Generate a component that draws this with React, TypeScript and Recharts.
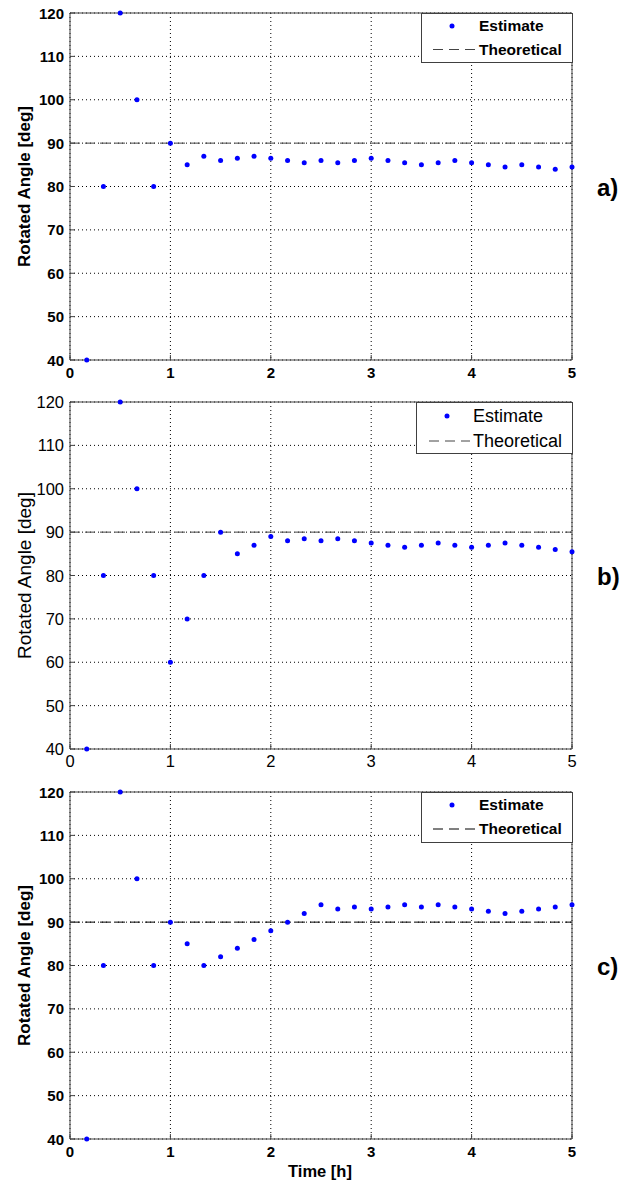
import React from 'react';
import { ComposedChart, Scatter, Line, XAxis, YAxis, CartesianGrid, Legend, Label } from 'recharts';

const timeHours = [0.167, 0.333, 0.5, 0.667, 0.833, 1.0, 1.167, 1.333, 1.5, 1.667, 1.833, 2.0, 2.167, 2.333, 2.5, 2.667, 2.833, 3.0, 3.167, 3.333, 3.5, 3.667, 3.833, 4.0, 4.167, 4.333, 4.5, 4.667, 4.833, 5.0];
const estimateA = [40, 80, 120, 100, 80, 90, 85, 87, 86, 86.5, 87, 86.5, 86, 85.5, 86, 85.5, 86, 86.5, 86, 85.5, 85, 85.5, 86, 85.5, 85, 84.5, 85, 84.5, 84, 84.5];
const estimateB = [40, 80, 120, 100, 80, 60, 70, 80, 90, 85, 87, 89, 88, 88.5, 88, 88.5, 88, 87.5, 87, 86.5, 87, 87.5, 87, 86.5, 87, 87.5, 87, 86.5, 86, 85.5];
const estimateC = [40, 80, 120, 100, 80, 90, 85, 80, 82, 84, 86, 88, 90, 92, 94, 93, 93.5, 93, 93.5, 94, 93.5, 94, 93.5, 93, 92.5, 92, 92.5, 93, 93.5, 94];
const theoreticalTime = [0, 5];
const theoreticalAngle = [90, 90];
const xTicks = [0, 1, 2, 3, 4, 5];
const yTicks = [40, 50, 60, 70, 80, 90, 100, 110, 120];
const panelTags = ['a)', 'b)', 'c)'];
const yAxisTitle = 'Rotated Angle [deg]';
const xAxisTitle = 'Time [h]';
const seriesNames = ['Estimate', 'Theoretical'];

const FONT = '"Liberation Sans", Arial, Helvetica, sans-serif';
const FRAME = '#404040';
const GRID = '#000';
const BLUE = '#0000ff';

type LegendGeo = { left: number; width: number; height: number; markX: number; row1: number; row2: number; lineX1: number; lineX2: number; textX: number };
type PanelCfg = {
  top: number; height: number; bottomH: number; values: number[]; tag: string;
  weight: 'bold' | 'normal'; tickSize: number; titleSize: number; legendSize: number;
  legend: LegendGeo; theoColor: string; showXTitle: boolean;
};

const PLOT_TOP = 13;
const PLOT_H = 347;

function Panel({ cfg }: { cfg: PanelCfg }) {
  const estData = timeHours.map((t, i) => ({ t, angle: cfg.values[i] }));
  const theoData = theoreticalTime.map((t, i) => ({ t, angle: theoreticalAngle[i] }));
  const L = cfg.legend;

  const leftTick = (p: any) => (
    <g>
      <line x1={p.x} x2={p.x + 5} y1={p.y} y2={p.y} stroke={FRAME} />
      <text x={p.x - 6} y={p.y} textAnchor="end" dominantBaseline="central" fontFamily={FONT} fontWeight={cfg.weight} fontSize={cfg.tickSize} fill="#000">
        {p.payload.value}
      </text>
    </g>
  );
  const bottomTick = (p: any) => (
    <g>
      <line x1={p.x} x2={p.x} y1={p.y} y2={p.y - 5} stroke={FRAME} />
      <text x={p.x} y={p.y + 12} textAnchor="middle" dominantBaseline="central" fontFamily={FONT} fontWeight={cfg.weight} fontSize={cfg.tickSize} fill="#000">
        {p.payload.value}
      </text>
    </g>
  );
  const rightTick = (p: any) => <line x1={p.x} x2={p.x - 5} y1={p.y} y2={p.y} stroke={FRAME} />;
  const topTick = (p: any) => <line x1={p.x} x2={p.x} y1={p.y} y2={p.y + 5} stroke={FRAME} />;

  const renderLegend = () => (
    <div
      style={{
        position: 'relative', width: L.width, height: L.height, boxSizing: 'border-box',
        border: `1px solid ${FRAME}`, background: '#fff', fontFamily: FONT,
        fontWeight: cfg.weight, fontSize: cfg.legendSize, color: '#000',
      }}
    >
      <svg width={L.width} height={L.height} style={{ position: 'absolute', left: -1, top: -1 }}>
        <circle cx={L.markX} cy={L.row1} r={2.5} fill={BLUE} />
        <line x1={L.lineX1} x2={L.lineX2} y1={L.row2} y2={L.row2} stroke={cfg.theoColor} strokeDasharray="10 6" />
      </svg>
      <div style={{ position: 'absolute', left: L.textX - 1, top: L.row1 - 1, transform: 'translateY(-50%)', lineHeight: 1, whiteSpace: 'nowrap' }}>
        {seriesNames[0]}
      </div>
      <div style={{ position: 'absolute', left: L.textX - 1, top: L.row2 - 1, transform: 'translateY(-50%)', lineHeight: 1, whiteSpace: 'nowrap' }}>
        {seriesNames[1]}
      </div>
    </div>
  );

  const yTitle = () => {
    const cx = 24;
    const cy = PLOT_TOP + PLOT_H / 2;
    return (
      <text x={cx} y={cy} transform={`rotate(-90, ${cx}, ${cy})`} textAnchor="middle" dominantBaseline="central" fontFamily={FONT} fontWeight={cfg.weight} fontSize={cfg.titleSize} fill="#000">
        {yAxisTitle}
      </text>
    );
  };
  const xTitle = () => (
    <text x={320} y={PLOT_TOP + PLOT_H + 32} textAnchor="middle" dominantBaseline="central" fontFamily={FONT} fontWeight="bold" fontSize={16.5} fill="#000">
      {xAxisTitle}
    </text>
  );

  return (
    <div style={{ position: 'absolute', left: 0, top: cfg.top, width: 628, height: cfg.height }}>
      <ComposedChart width={628} height={cfg.height} margin={{ top: 3, right: 46, bottom: 0, left: 0 }}>
        <CartesianGrid stroke={GRID} strokeDasharray="1 3" />
        <XAxis dataKey="t" type="number" domain={[0, 5]} ticks={xTicks} height={cfg.bottomH} tickSize={0} tickMargin={0} tickLine={false} axisLine={{ stroke: FRAME }} tick={bottomTick} interval={0} allowDecimals={false}>
          {cfg.showXTitle && <Label content={xTitle} />}
        </XAxis>
        <XAxis xAxisId="top" orientation="top" dataKey="t" type="number" domain={[0, 5]} ticks={xTicks} height={10} tickSize={0} tickMargin={0} tickLine={false} axisLine={{ stroke: FRAME }} tick={topTick} interval={0} />
        <YAxis type="number" domain={[40, 120]} ticks={yTicks} width={70} tickSize={0} tickMargin={0} tickLine={false} axisLine={{ stroke: FRAME }} tick={leftTick} interval={0}>
          <Label content={yTitle} />
        </YAxis>
        <YAxis yAxisId="right" orientation="right" type="number" domain={[40, 120]} ticks={yTicks} width={10} tickSize={0} tickMargin={0} tickLine={false} axisLine={{ stroke: FRAME }} tick={rightTick} interval={0} />
        <Line data={theoData} dataKey="angle" name={seriesNames[1]} stroke={cfg.theoColor} strokeWidth={1} strokeDasharray="10 5" dot={false} activeDot={false} isAnimationActive={false} legendType="line" />
        <Scatter data={estData} dataKey="angle" name={seriesNames[0]} fill={BLUE} isAnimationActive={false} shape={(p: any) => <circle cx={p.cx} cy={p.cy} r={2.5} fill={BLUE} />} />
        <Legend layout="vertical" align="center" verticalAlign="middle" wrapperStyle={{ left: L.left, top: PLOT_TOP, width: L.width, height: L.height }} content={renderLegend} />
      </ComposedChart>
      <div style={{ position: 'absolute', left: 597, top: 188 - 14, height: 28, lineHeight: '28px', fontFamily: FONT, fontWeight: 'bold', fontSize: 24, color: '#000' }}>
        {cfg.tag}
      </div>
    </div>
  );
}

const panels: PanelCfg[] = [
  {
    top: 0, height: 390, bottomH: 30, values: estimateA, tag: panelTags[0], weight: 'bold', tickSize: 15, titleSize: 17, legendSize: 15.5,
    legend: { left: 421, width: 152, height: 50, markX: 31, row1: 13, row2: 36.5, lineX1: 12, lineX2: 54, textX: 58 },
    theoColor: '#444', showXTitle: false,
  },
  {
    top: 389, height: 390, bottomH: 30, values: estimateB, tag: panelTags[1], weight: 'normal', tickSize: 16.5, titleSize: 19, legendSize: 18,
    legend: { left: 416, width: 157, height: 52, markX: 31, row1: 14, row2: 39, lineX1: 13, lineX2: 54, textX: 57 },
    theoColor: '#444', showXTitle: false,
  },
  {
    top: 779, height: 412, bottomH: 52, values: estimateC, tag: panelTags[2], weight: 'bold', tickSize: 15, titleSize: 17, legendSize: 15.5,
    legend: { left: 421, width: 152, height: 51, markX: 31, row1: 13, row2: 37, lineX1: 12, lineX2: 54, textX: 58 },
    theoColor: '#000', showXTitle: true,
  },
];

export default function App() {
  return (
    <div style={{ position: 'absolute', left: 0, top: 0, width: 628, height: 1184, background: '#fff', overflow: 'hidden' }}>
      {panels.map((cfg, i) => (
        <Panel key={i} cfg={cfg} />
      ))}
    </div>
  );
}
